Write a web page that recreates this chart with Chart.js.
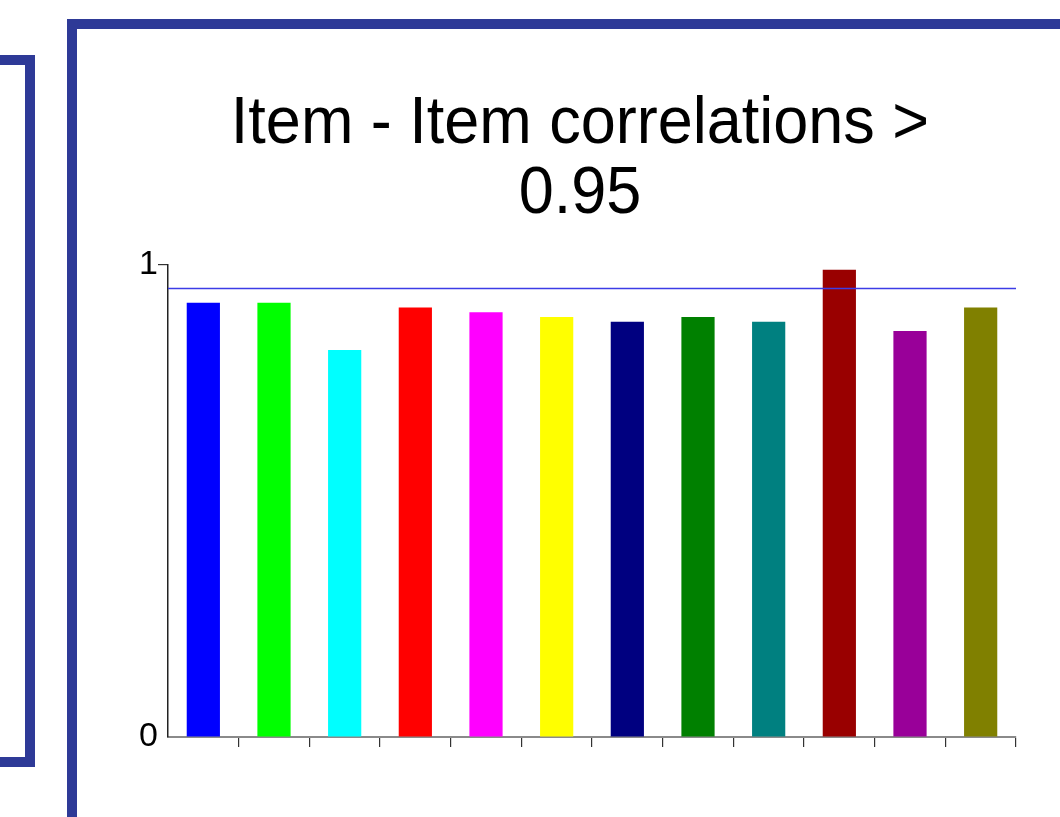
<!DOCTYPE html>
<html>
<head>
<meta charset="utf-8">
<script src="https://cdn.jsdelivr.net/npm/chart.js@4"></script>
<style>
  html, body { margin: 0; padding: 0; background: #fff; overflow: hidden; }
  #wrap { position: relative; width: 1060px; height: 817px; }
  #chart { position: absolute; left: 0; top: 0; }
  .frame { position: absolute; box-sizing: border-box; border: 10.5px solid #2e3a97; }
  #frame-left { left: -20px; top: 55px; width: 55px; height: 712px; border-left: none; }
  #frame-right { left: 67px; top: 19px; width: 1100px; height: 900px; border-right: none; border-bottom: none; }
</style>
</head>
<body>
<div id="wrap">
  <div class="frame" id="frame-left"></div>
  <div class="frame" id="frame-right"></div>
  <canvas id="chart" width="1060" height="817"></canvas>
</div>
<script>
const titleLines = ['Item - Item correlations >', '0.95']
const items = ['Item 1', 'Item 2', 'Item 3', 'Item 4', 'Item 5', 'Item 6', 'Item 7', 'Item 8', 'Item 9', 'Item 10', 'Item 11', 'Item 12']
const correlations = [0.92, 0.92, 0.82, 0.91, 0.90, 0.89, 0.88, 0.89, 0.88, 0.99, 0.86, 0.91]
const barColors = ['#0000ff', '#00ff00', '#00ffff', '#ff0000', '#ff00ff', '#ffff00', '#000080', '#008000', '#008080', '#990000', '#990099', '#808000']
const threshold = 0.95

// title drawn slightly condensed, like the slide font
const titlePlugin = {
    id: 'slideTitle',
    afterDraw(chart) {
        const ctx = chart.ctx
        ctx.save()
        ctx.fillStyle = '#000'
        ctx.font = '67px "Liberation Sans", Arial, sans-serif'
        ctx.textAlign = 'center'
        ctx.textBaseline = 'alphabetic'
        titleLines.forEach((line, i) => {
            ctx.save()
            ctx.translate(580, 143 + i * 70)
            ctx.scale(0.94, 1)
            ctx.fillText(line, 0, 0)
            ctx.restore()
        })
        ctx.restore()
    }
}

// threshold line across the plot
const thresholdPlugin = {
    id: 'threshold',
    afterDatasetsDraw(chart) {
        const {ctx, chartArea, scales} = chart
        const y = scales.y.getPixelForValue(threshold)
        ctx.save()
        ctx.strokeStyle = 'rgb(60, 60, 230)'
        ctx.lineWidth = 1.5
        ctx.beginPath()
        ctx.moveTo(chartArea.left, y)
        ctx.lineTo(chartArea.right, y)
        ctx.stroke()
        ctx.restore()
    }
}

new Chart(document.querySelector('#chart').getContext('2d'), {
    type: 'bar',
    data: {
        labels: items,
        datasets: [{
            data: correlations,
            backgroundColor: barColors,
            borderWidth: 0,
            categoryPercentage: 1,
            barPercentage: 0.47
        }]
    },
    options: {
        responsive: false,
        animation: false,
        layout: { padding: { left: 0, top: 265, right: 44, bottom: 0 } },
        plugins: {
            legend: { display: false },
            title: { display: false },
            tooltip: { enabled: false }
        },
        scales: {
            x: {
                afterFit: s => { s.height = 80 },
                ticks: { display: false },
                grid: {
                    drawOnChartArea: false,
                    tickLength: 10,
                    lineWidth: 1.2,
                    color: c => c.index === 0 ? 'rgba(0,0,0,0)' : '#333'
                },
                border: { color: '#8a8a8a', width: 2 }
            },
            y: {
                min: 0,
                max: 1,
                afterFit: s => { s.width = 168 },
                ticks: {
                    stepSize: 1,
                    padding: 0,
                    color: '#000',
                    font: { family: '"Liberation Sans", Arial, sans-serif', size: 34 }
                },
                grid: {
                    drawOnChartArea: false,
                    tickLength: 10,
                    lineWidth: 1.2,
                    color: c => c.index === 0 ? 'rgba(0,0,0,0)' : '#333'
                },
                border: { color: '#222', width: 1.5 }
            }
        }
    },
    plugins: [titlePlugin, thresholdPlugin]
})
</script>
</body>
</html>
